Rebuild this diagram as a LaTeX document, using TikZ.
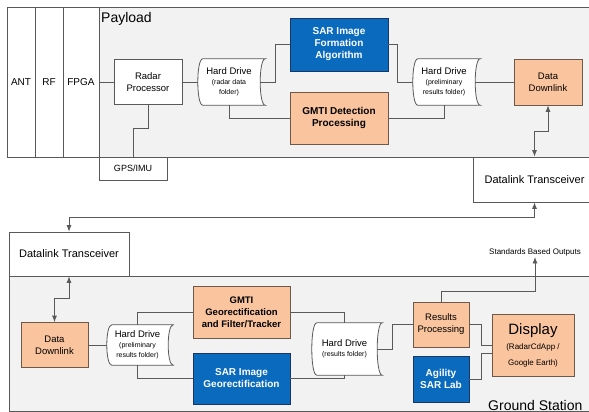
\documentclass[tikz,border=0pt]{standalone}
\usepackage{fontspec}
\setmainfont{Liberation Sans}
\usepackage{tikz}
\usetikzlibrary{calc,arrows.meta}
\pgfdeclarelayer{bg}
\pgfsetlayers{bg,main}
\definecolor{paneGray}{RGB}{242,242,242}
\definecolor{lineGray}{RGB}{89,89,89}
\definecolor{boxOrange}{RGB}{249,196,158}
\definecolor{edgeOrange}{RGB}{110,88,74}
\definecolor{boxBlue}{RGB}{10,106,190}
\definecolor{edgeBlue}{RGB}{25,55,100}
\newcommand{\fsz}[2]{\fontsize{#1}{#2}\selectfont}
\newcommand{\sm}[1]{{\fsz{7}{9}#1}}
% outline of a hard drive symbol round a node
\newcommand{\hdoutline}[1]{%
  \begin{pgfonlayer}{bg}
  \draw[wire,fill=white] ([xshift=5pt]#1.north west) .. controls ([xshift=-1.67pt]#1.north west) and ([xshift=-1.67pt]#1.south west) .. ([xshift=5pt]#1.south west)
    -- ([xshift=5pt]#1.south east) .. controls ([xshift=-1.67pt]#1.south east) and ([xshift=-1.67pt]#1.north east) .. ([xshift=5pt]#1.north east) -- cycle;
  \end{pgfonlayer}}

\begin{document}
\begin{tikzpicture}[x=1pt,y=-1pt,
    wire/.style={draw=lineGray,line width=0.8pt},
    tip/.tip={Latex[length=6.5pt,width=5pt]},
    plainbox/.style={draw=lineGray,line width=0.8pt,fill=white,align=center,inner sep=1pt},
    orangebox/.style={draw=edgeOrange,line width=0.8pt,fill=boxOrange,align=center,inner sep=1pt,font=\fsz{9.5}{12}},
    bluebox/.style={draw=edgeBlue,line width=0.8pt,fill=boxBlue,text=white,align=center,inner sep=1pt,font=\fsz{10}{12}\bfseries},
    hdrive/.style={align=center,inner sep=0pt,font=\fsz{9.5}{10}}]
              \useasboundingbox (0,0) rectangle (589,412);
              % panes
              \begin{pgfonlayer}{bg}
              \draw[wire,fill=paneGray] (99,7) rectangle (620,157);
              \draw[wire,fill=paneGray] (9,276) rectangle (620,411);
              \end{pgfonlayer}
              % payload
              \node[plainbox,minimum width=28,minimum height=150,font=\fsz{10}{12}](ant)at(21,82){ANT};
              \node[plainbox,minimum width=28,minimum height=150,font=\fsz{10}{12}](rf)at(49,82){RF};
              \node[plainbox,minimum width=36,minimum height=150,font=\fsz{10}{12}](fpga)at(81,82){FPGA};
              \node[anchor=base west,inner sep=0pt,font=\fsz{14}{16}](payload)at(101,23){Payload};
              \node[plainbox,minimum width=68,minimum height=23,font=\fsz{9}{11}](gps)at(133,168.5){GPS/IMU};
              \node[plainbox,minimum width=68,minimum height=45,font=\fsz{9.5}{12}](radar)at(148,82){Radar\\Processor};
              \node[hdrive,minimum width=62,minimum height=46](hd1)at(229,82){Hard Drive\\\sm{(radar data}\\\sm{folder)}};
              \hdoutline{hd1}
              \node[bluebox,minimum width=98,minimum height=53](sar)at(339,44.5){SAR Image\\Formation\\Algorithm};
              \node[orangebox,minimum width=98,minimum height=52,font=\fsz{10}{12}\bfseries](gmti)at(339,118){GMTI Detection\\Processing};
              \node[hdrive,minimum width=62,minimum height=46](hd2)at(444,82){Hard Drive\\\sm{(preliminary}\\\sm{results folder)}};
              \hdoutline{hd2}
              \node[orangebox,minimum width=68,minimum height=46](dd1)at(548,82){Data\\Downlink};
              \node[plainbox,minimum width=123,minimum height=45,font=\fsz{11}{13}](dlt1)at(534.5,179.5){Datalink Transceiver};
              % ground station
              \node[plainbox,minimum width=120,minimum height=44,font=\fsz{11}{13}](dlt2)at(69,254){Datalink Transceiver};
              \node[orangebox,minimum width=67,minimum height=45](dd2)at(54.5,345){Data\\Downlink};
              \node[hdrive,minimum width=61,minimum height=40](hd3)at(137.5,345){Hard Drive\\\sm{(preliminary}\\\sm{results folder)}};
              \hdoutline{hd3}
              \node[orangebox,minimum width=97,minimum height=52,font=\fsz{9.5}{12}\bfseries](gmtig)at(241.5,312){GMTI\\Georectification\\and Filter/Tracker};
              \node[bluebox,minimum width=97,minimum height=51](sarg)at(241.5,378.5){SAR Image\\Georectification};
              \node[hdrive,minimum width=65,minimum height=52](hd4)at(344.5,349){Hard Drive\\\sm{(results folder)}};
              \hdoutline{hd4}
              \node[orangebox,minimum width=56,minimum height=45](rp)at(441,324.5){Results\\Processing};
              \node[bluebox,minimum width=56,minimum height=46](agl)at(441,379){Agility\\SAR Lab};
              \node[orangebox,minimum width=82,minimum height=62](disp)at(533,345){{\fsz{15}{17}Display}\\[3pt]{\fsz{8}{10}(RadarCdApp /}\\[4pt]{\fsz{8}{10}Google Earth)}};
              \node[inner sep=1pt,font=\fsz{8}{10}](sbo)at(535,252){Standards Based Outputs};
              \node[anchor=base west,inner sep=0pt,font=\fsz{14}{16}](gs)at(488,410){Ground Station};
              % connectors
              \draw[wire] (fpga)--(radar);
              \draw[wire] (radar.south)--++(0,23)-|(gps.north);
              \draw[wire] (radar)--(hd1);
              \draw[wire] (hd1.east)--++(15,0)|-(sar.west);
              \draw[wire] (hd1.south)|-(gmti.west);
              \draw[wire] (sar.east)--++(9,0)|-(hd2.west);
              \draw[wire] (gmti.east)-|(hd2.south);
              \draw[wire] (hd2)--(dd1);
              \draw[wire,tip-tip] (dd1.south)--++(0,26)-|(dlt1.north);
              \draw[wire,tip-tip] (dlt1.south)--++(0,15)-|(dlt2.north);
              \draw[wire,tip-tip] (dlt2.south)--++(0,22)-|(dd2.north);
              \draw[wire] (dd2)--(hd3);
              \draw[wire] (hd3.north)|-(gmtig.west);
              \draw[wire] (hd3.south)|-(sarg.west);
              \draw[wire] (gmtig.east)-|(hd4.north);
              \draw[wire] (sarg.east)-|(hd4.south);
              \draw[wire] (hd4.east)--++(15,0)|-(rp.west);
              \draw[wire,-tip] (rp.north)--++(0,-10)-|(sbo.south);
              \draw[wire] (rp.east)--++(12,0)|-(disp.west);
              \draw[wire] (agl.east)--++(12,0)|-([yshift=-8pt]disp.west);
            \end{tikzpicture}
\end{document}
